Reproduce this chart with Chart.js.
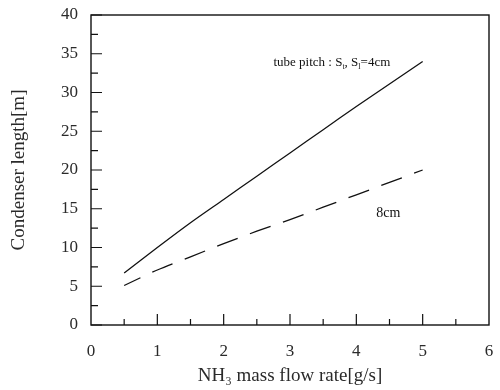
<!DOCTYPE html>
<html>
<head>
<meta charset="UTF-8">
<script src="https://cdn.jsdelivr.net/npm/chart.js@4/dist/chart.umd.min.js"></script>
<style>
  html, body { margin:0; padding:0; background:#fff; }
  #wrap { width:500px; height:390px; }
</style>
</head>
<body>
<div id="wrap"><canvas id="id_chart"></canvas></div>
<script>
// 読み取り値（図から目測）
var flowRate = [0.5, 1, 1.5, 2, 2.5, 3, 3.5, 4, 4.5, 5];
var length4cm = [6.7, 10.0, 13.2, 16.2, 19.2, 22.2, 25.2, 28.2, 31.1, 34.0];
var length8cm = [5.1, 7.1, 8.8, 10.5, 12.1, 13.6, 15.2, 16.8, 18.4, 20.0];
var xTicks = [0, 1, 2, 3, 4, 5, 6];
var yTicks = [0, 5, 10, 15, 20, 25, 30, 35, 40];

var SERIF = "'Liberation Serif', 'DejaVu Serif', serif";
var INK = "#111";

var _toPoints = function( xs, ys ){
    var i, pts = [];
    for( i=0; i<xs.length; i++ ){
        pts.push({ x: xs[i], y: ys[i] });
    }
    return pts;
};

// 枠と内向きの目盛り、注記
var framePlugin = {
    id: "frame",
    afterDraw: function( chart ){
        var ctx = chart.ctx;
        var a = chart.chartArea;
        var sx = chart.scales.x, sy = chart.scales.y;
        var v, p, len;
        ctx.save();
        ctx.strokeStyle = INK;
        ctx.lineWidth = 1.4;
        ctx.strokeRect( a.left, a.top, a.right - a.left, a.bottom - a.top );

        ctx.lineWidth = 1.2;
        ctx.beginPath();
        for( v=0; v<=40; v+=2.5 ){
            p = sy.getPixelForValue( v );
            len = (v % 5 === 0) ? 11 : 7;
            ctx.moveTo( a.left, p );
            ctx.lineTo( a.left + len, p );
        }
        for( v=0.5; v<6; v+=0.5 ){
            p = sx.getPixelForValue( v );
            len = (v % 1 === 0) ? 11 : 6;
            ctx.moveTo( p, a.bottom );
            ctx.lineTo( p, a.bottom - len );
        }
        ctx.stroke();

        // 注記
        ctx.fillStyle = INK;
        ctx.textBaseline = "middle";
        var x = sx.getPixelForValue( 2.75 );
        var y = sy.getPixelForValue( 33.8 );
        var parts = [
            ["tube pitch : S", 0], ["t", 1], [", S", 0], ["l", 1], ["=4cm", 0]
        ];
        parts.forEach(function( part ){
            ctx.font = (part[1] ? "8px " : "13px ") + SERIF;
            ctx.fillText( part[0], x, y + (part[1] ? 4 : 0) );
            x += ctx.measureText( part[0] ).width;
        });
        ctx.font = "14px " + SERIF;
        ctx.fillText( "8cm", sx.getPixelForValue( 4.3 ), sy.getPixelForValue( 14.4 ) );
        ctx.restore();
    }
};

var ctx = document.getElementById("id_chart").getContext("2d");
var myChart = new Chart(ctx, {
    type: "line",
    data: {
        datasets: [
            {
                label: "S=4cm",
                data: _toPoints( flowRate, length4cm ),
                borderColor: INK,
                borderWidth: 1.3,
                pointRadius: 0,
                tension: 0.3,
                fill: false
            },
            {
                label: "8cm",
                data: _toPoints( flowRate, length8cm ),
                borderColor: INK,
                borderWidth: 1.3,
                borderDash: [22, 13],
                borderDashOffset: 4,
                pointRadius: 0,
                tension: 0.3,
                fill: false
            }
        ]
    },
    options: {
        responsive: true,
        maintainAspectRatio: false,
        animation: false,
        layout: { padding: { top: 15, right: 11, left: 0, bottom: 0 } },
        plugins: {
            legend: { display: false },
            tooltip: { enabled: false }
        },
        scales: {
            x: {
                type: "linear",
                min: 0, max: 6,
                afterBuildTicks: function( scale ){
                    scale.ticks = xTicks.map(function( v ){ return { value: v }; });
                },
                afterFit: function( scale ){
                    scale.height = 65;
                    scale.paddingLeft = 0;
                    scale.paddingRight = 0;
                },
                grid: { display: false, drawTicks: false },
                border: { display: false },
                ticks: {
                    padding: 16,
                    color: "#2a2a2a",
                    font: { family: SERIF, size: 17 }
                },
                title: {
                    display: true,
                    text: "NH\u2083 mass flow rate[g/s]",
                    color: "#2a2a2a",
                    font: { family: SERIF, size: 19 },
                    padding: { top: 0, bottom: 3 }
                }
            },
            y: {
                type: "linear",
                min: 0, max: 40,
                afterBuildTicks: function( scale ){
                    scale.ticks = yTicks.map(function( v ){ return { value: v }; });
                },
                afterFit: function( scale ){
                    scale.width = 91;
                    scale.paddingTop = 0;
                    scale.paddingBottom = 0;
                },
                grid: { display: false, drawTicks: false },
                border: { display: false },
                ticks: {
                    padding: 13,
                    color: "#2a2a2a",
                    font: { family: SERIF, size: 17 }
                },
                title: {
                    display: true,
                    text: "Condenser length[m]",
                    color: "#2a2a2a",
                    font: { family: SERIF, size: 19 },
                    padding: { top: 8, bottom: 0 }
                }
            }
        }
    },
    plugins: [ framePlugin ]
});
</script>
</body>
</html>
